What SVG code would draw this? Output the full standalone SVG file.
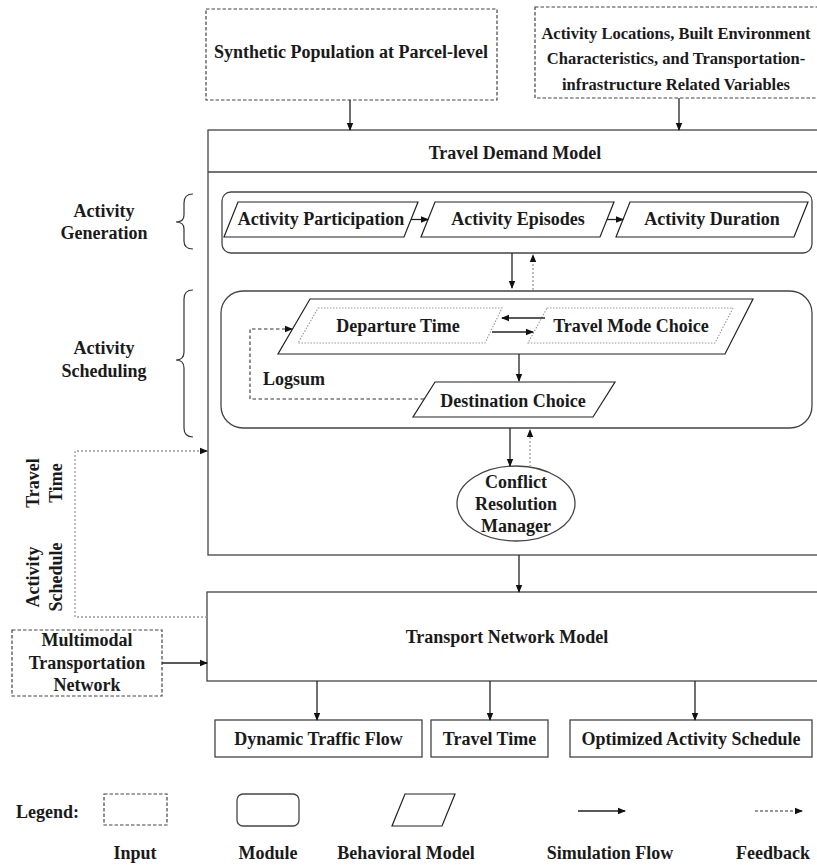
<svg xmlns="http://www.w3.org/2000/svg" width="817" height="865" viewBox="0 0 817 865">
<defs>
<marker id="ah" markerWidth="8" markerHeight="8" refX="7" refY="4" orient="auto" markerUnits="userSpaceOnUse">
<path d="M0,0.8 L8,4 L0,7.2 Z" fill="#111"/>
</marker>
</defs>
<style>
text{font-family:"Liberation Serif","Times New Roman",serif;font-weight:bold;font-size:18px;fill:#1a1a1a;text-anchor:middle}
.input{fill:#fff;stroke:#444;stroke-width:1.2;stroke-dasharray:3.5 2}
.box{fill:#fff;stroke:#444;stroke-width:1.3}
.mod{fill:#fff;stroke:#444;stroke-width:1.3}
.beh{fill:#fff;stroke:#222;stroke-width:1.2}
.inner{fill:none;stroke:#999;stroke-width:1.1;stroke-dasharray:1.5 1.5}
.flow{fill:none;stroke:#222;stroke-width:1.3;marker-end:url(#ah)}
.fb{fill:none;stroke:#999;stroke-width:1.3;stroke-dasharray:2 2;marker-end:url(#ah)}
.logsum{fill:none;stroke:#333;stroke-width:1.1;stroke-dasharray:3.5 2.5;marker-end:url(#ah)}
.brace{fill:none;stroke:#333;stroke-width:1.2}
.small{font-size:16.5px}
</style>

<g id="input-population">
<rect class="input" x="206" y="9" width="291" height="91"/>
<text x="351" y="58">Synthetic Population at Parcel-level</text>
</g>
<g id="input-locations">
<rect class="input" x="535" y="7" width="290" height="91"/>
<text class="small" x="676" y="39">Activity Locations, Built Environment</text>
<text class="small" x="676" y="64">Characteristics, and Transportation-</text>
<text class="small" x="676" y="90">infrastructure Related Variables</text>
</g>

<g id="travel-demand-model">
<rect class="box" x="208" y="130" width="620" height="425"/>
<line x1="208" y1="172" x2="817" y2="172" stroke="#444" stroke-width="1.3"/>
<text x="515" y="159">Travel Demand Model</text>
</g>

<g id="activity-generation-module">
<rect class="mod" x="222" y="192" width="590" height="61" rx="9"/>
</g>
<g id="activity-participation">
<polygon class="beh" points="238,202 418,202 404,237 224,237"/>
<text x="321" y="225">Activity Participation</text>
</g>
<g id="activity-episodes">
<polygon class="beh" points="435,202 614,202 600,237 421,237"/>
<text x="518" y="225">Activity Episodes</text>
</g>
<g id="activity-duration">
<polygon class="beh" points="630,202 808,202 794,237 616,237"/>
<text x="712" y="225">Activity Duration</text>
</g>

<g id="activity-scheduling-module">
<rect class="mod" x="221" y="291" width="591" height="137" rx="22"/>
</g>
<g id="departure-mode-model">
<polygon class="beh" points="310,299 753,299 725,354 278,354"/>
</g>
<g id="departure-time">
<polygon class="inner" points="318,308 502,308 485,343 298,343"/>
<text x="398" y="332">Departure Time</text>
</g>
<g id="travel-mode-choice">
<polygon class="inner" points="547,308 733,308 715,343 528,343"/>
<text x="631" y="332">Travel Mode Choice</text>
</g>
<g id="destination-choice">
<polygon class="beh" points="435,382 615,382 593,417 413,417"/>
<text x="513" y="407">Destination Choice</text>
</g>
<g id="logsum-label">
<text x="263" y="385" style="text-anchor:start">Logsum</text>
</g>

<g id="conflict-resolution-manager">
<ellipse cx="516" cy="503.5" rx="59" ry="37.5" fill="#fff" stroke="#444" stroke-width="1.3"/>
<text x="516" y="488">Conflict</text>
<text x="516" y="510">Resolution</text>
<text x="516" y="532">Manager</text>
</g>

<g id="transport-network-model">
<rect class="box" x="207" y="592" width="620" height="89"/>
<text x="507" y="643">Transport Network Model</text>
</g>

<g id="input-network">
<rect class="input" x="12" y="630" width="150" height="66"/>
<text x="87" y="646">Multimodal</text>
<text x="87" y="669">Transportation</text>
<text x="87" y="691">Network</text>
</g>

<g id="output-traffic-flow">
<rect class="box" x="215" y="720" width="207" height="37"/>
<text x="318.5" y="745">Dynamic Traffic Flow</text>
</g>
<g id="output-travel-time">
<rect class="box" x="431" y="720" width="117" height="37"/>
<text x="489.5" y="745">Travel Time</text>
</g>
<g id="output-schedule">
<rect class="box" x="570" y="720" width="242" height="37"/>
<text x="691" y="745">Optimized Activity Schedule</text>
</g>

<g id="side-labels">
<text x="104" y="217">Activity</text>
<text x="104" y="239">Generation</text>
<path class="brace" d="M193,194 Q184,194 184,203 L184,215 Q184,222 176,222 Q184,222 184,229 L184,241 Q184,249 193,249"/>
<text x="104" y="354">Activity</text>
<text x="104" y="377">Scheduling</text>
<path class="brace" d="M193,290 Q184,290 184,299 L184,352 Q184,360 176,360 Q184,360 184,368 L184,428 Q184,437 193,437"/>
<text transform="translate(39,483) rotate(-90)">Travel</text>
<text transform="translate(62,483) rotate(-90)">Time</text>
<text transform="translate(39,577) rotate(-90)">Activity</text>
<text transform="translate(62,577) rotate(-90)">Schedule</text>
</g>

<g id="connectors">
<line class="flow" x1="350" y1="100" x2="350" y2="130"/>
<line class="flow" x1="679" y1="98" x2="679" y2="130"/>
<line class="flow" x1="411" y1="219.5" x2="428" y2="219.5"/>
<line class="flow" x1="607" y1="219.5" x2="623" y2="219.5"/>
<line class="flow" x1="512" y1="253" x2="512" y2="288"/>
<line class="fb" x1="533" y1="290" x2="533" y2="255"/>
<line class="flow" x1="545" y1="318" x2="502" y2="318"/>
<line class="flow" x1="492" y1="332" x2="533" y2="332"/>
<line class="flow" x1="519" y1="354" x2="519" y2="381"/>
<path class="logsum" d="M424,399 L250,399 L250,329 L292,329"/>
<line class="flow" x1="510" y1="428" x2="510" y2="466"/>
<line class="fb" x1="530" y1="467" x2="530" y2="430"/>
<line class="flow" x1="519" y1="555" x2="519" y2="592"/>
<path class="fb" d="M207,617 L75,617 L75,451 L207,451"/>
<line class="flow" x1="162" y1="663" x2="207" y2="663"/>
<line class="flow" x1="317" y1="681" x2="317" y2="720"/>
<line class="flow" x1="490" y1="681" x2="490" y2="720"/>
<line class="flow" x1="695" y1="681" x2="695" y2="720"/>
</g>

<g id="legend">
<text x="16" y="818" style="text-anchor:start">Legend:</text>
<rect class="input" x="104" y="794" width="63" height="31"/>
<rect class="mod" x="237" y="794" width="62" height="32" rx="6"/>
<polygon class="beh" points="405,794 455,794 442,826 392,826"/>
<line class="flow" x1="578" y1="811" x2="625" y2="811"/>
<line x1="755" y1="811" x2="802" y2="811" stroke="#333" stroke-width="1.1" stroke-dasharray="3 2" marker-end="url(#ah)"/>
<text x="135" y="859">Input</text>
<text x="268" y="859">Module</text>
<text x="406" y="859">Behavioral Model</text>
<text x="610" y="859">Simulation Flow</text>
<text x="773" y="859">Feedback</text>
</g>
</svg>
